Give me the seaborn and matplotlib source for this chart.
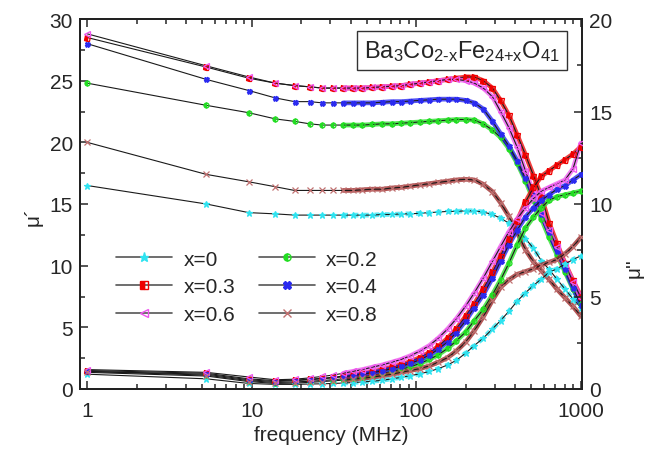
import numpy as np
import pandas as pd
import matplotlib
matplotlib.use("Agg")
import matplotlib.pyplot as plt
from matplotlib.lines import Line2D
from matplotlib.ticker import FixedLocator, MultipleLocator, LogLocator, NullFormatter
import seaborn as sns

# ---------------- data ----------------
freq = [1, 5.3, 9.6, 13.9, 18.2, 22.5, 26.8, 31, 36, 41, 47, 54, 62, 71, 81, 92,
        105, 120, 136, 155, 175, 200, 225, 255, 290, 325, 365, 410, 460, 515,
        575, 640, 715, 800, 895, 1000]

labels = ["x=0", "x=0.2", "x=0.3", "x=0.4", "x=0.6", "x=0.8"]

# real part mu' (left axis)
mu1_x0 = [16.5, 15.0, 14.3, 14.2, 14.1, 14.1, 14.1, 14.1, 14.1, 14.1, 14.1, 14.1, 14.15, 14.15, 14.2, 14.2,
          14.25, 14.3, 14.35, 14.4, 14.4, 14.45, 14.45, 14.35, 14.15, 13.85, 13.45, 12.9, 12.2, 11.4,
          10.4, 9.7, 8.9, 8.1, 7.3, 6.6]
mu1_x02 = [24.8, 23.0, 22.4, 21.9, 21.7, 21.5, 21.4, 21.4, 21.4, 21.4, 21.4, 21.45, 21.5, 21.5, 21.55, 21.6,
           21.65, 21.7, 21.75, 21.8, 21.85, 21.85, 21.8, 21.5, 21.0, 20.4, 19.5, 18.3, 16.9, 15.3,
           13.8, 12.3, 10.9, 9.5, 8.1, 6.9]
mu1_x03 = [28.5, 26.1, 25.2, 24.8, 24.6, 24.5, 24.4, 24.4, 24.4, 24.4, 24.4, 24.45, 24.5, 24.55, 24.6, 24.7,
           24.8, 24.9, 25.0, 25.1, 25.2, 25.3, 25.3, 25.0, 24.4, 23.4, 22.2, 20.6, 19.0, 17.3,
           15.6, 13.5, 11.8, 10.2, 8.8, 7.5]
mu1_x04 = [28.0, 25.1, 24.2, 23.6, 23.3, 23.3, 23.2, 23.2, 23.2, 23.2, 23.2, 23.2, 23.25, 23.3, 23.3, 23.35,
           23.4, 23.45, 23.5, 23.5, 23.5, 23.4, 23.2, 22.7, 21.7, 20.7, 19.7, 18.5, 17.1, 15.7,
           14.2, 12.7, 11.2, 9.7, 8.2, 6.8]
mu1_x06 = [28.8, 26.2, 25.3, 24.8, 24.6, 24.5, 24.4, 24.4, 24.4, 24.4, 24.4, 24.45, 24.5, 24.55, 24.6, 24.7,
           24.8, 24.9, 25.0, 25.1, 25.1, 25.0, 24.8, 24.4, 23.7, 22.5, 21.2, 19.6, 17.7, 15.9,
           14.3, 12.9, 11.5, 10.1, 8.7, 7.4]
mu1_x08 = [20.0, 17.4, 16.8, 16.4, 16.1, 16.1, 16.1, 16.1, 16.1, 16.1, 16.15, 16.2, 16.2, 16.3, 16.35, 16.45,
           16.55, 16.65, 16.75, 16.85, 16.95, 17.0, 16.95, 16.6, 16.0, 15.1, 14.0, 12.7, 11.3, 10.3,
           9.6, 8.9, 8.1, 7.4, 6.7, 5.9]

# imaginary part mu'' (right axis)
mu2_x0 = [0.8, 0.55, 0.3, 0.25, 0.25, 0.27, 0.28, 0.3, 0.32, 0.35, 0.38, 0.42, 0.47, 0.55, 0.63, 0.72,
          0.82, 0.95, 1.1, 1.3, 1.55, 1.95, 2.35, 2.75, 3.25, 3.7, 4.2, 4.75, 5.2, 5.6,
          5.95, 6.3, 6.5, 6.75, 7.0, 7.2]
mu2_x02 = [0.95, 0.75, 0.45, 0.35, 0.38, 0.42, 0.46, 0.5, 0.55, 0.6, 0.67, 0.75, 0.85, 0.95, 1.07, 1.2,
           1.38, 1.6, 1.85, 2.2, 2.6, 3.1, 3.7, 4.3, 5.1, 5.9, 6.8, 7.8, 8.7, 9.3,
           9.8, 10.2, 10.4, 10.5, 10.6, 10.7]
mu2_x03 = [1.0, 0.85, 0.55, 0.45, 0.48, 0.53, 0.58, 0.63, 0.7, 0.76, 0.84, 0.93, 1.05, 1.18, 1.32, 1.48,
           1.7, 1.97, 2.3, 2.75, 3.25, 3.95, 4.6, 5.4, 6.3, 7.2, 8.1, 9.1, 10.1, 10.9,
           11.5, 11.8, 12.1, 12.4, 12.7, 13.1]
mu2_x04 = [0.95, 0.8, 0.5, 0.4, 0.45, 0.5, 0.55, 0.6, 0.66, 0.72, 0.8, 0.88, 0.98, 1.1, 1.23, 1.38,
           1.58, 1.83, 2.15, 2.55, 3.05, 3.7, 4.4, 5.1, 6.0, 6.9, 7.8, 8.6, 9.3, 9.8,
           10.2, 10.5, 10.8, 11.0, 11.3, 11.6]
mu2_x06 = [1.05, 0.9, 0.65, 0.5, 0.53, 0.6, 0.68, 0.75, 0.85, 0.95, 1.05, 1.18, 1.3, 1.45, 1.6, 1.8,
           2.05, 2.35, 2.75, 3.25, 3.8, 4.5, 5.2, 6.0, 6.9, 7.7, 8.5, 9.2, 9.8, 10.3,
           10.7, 10.9, 11.1, 11.3, 11.9, 13.3]
mu2_x08 = [0.9, 0.7, 0.4, 0.3, 0.32, 0.36, 0.4, 0.44, 0.48, 0.53, 0.58, 0.64, 0.72, 0.8, 0.9, 1.0,
           1.1, 1.25, 1.45, 1.7, 2.05, 2.55, 3.15, 3.9, 4.8, 5.5, 5.9, 6.2, 6.35, 6.5,
           6.7, 6.85, 7.0, 7.3, 7.7, 8.2]

mu1 = [mu1_x0, mu1_x02, mu1_x03, mu1_x04, mu1_x06, mu1_x08]
mu2 = [mu2_x0, mu2_x02, mu2_x03, mu2_x04, mu2_x06, mu2_x08]

# ---------------- styles ----------------
colors = ["#2ee3f0", "#22dd22", "#ee0000", "#1e1ef0", "#ee55ee", "#9a2020"]
mcolors = ["#2ee3f0", "#22dd22", "#ee0000", "#2a2af0", "#ee55ee", "#c07070"]
markers = ["*", "o", "s", "X", "<", "x"]
fills = ["full", "left", "left", "full", "none", "full"]
msizes = [5, 3.6, 3.6, 3.6, 4.5, 4]
band_ls = [(0, (1, 1.2)), "-", "-", "-", "-", "-"]

sns.set_style("ticks")
plt.rcParams["font.family"] = ["Liberation Sans", "DejaVu Sans"]
plt.rcParams["mathtext.fontset"] = "custom"
plt.rcParams["mathtext.rm"] = "Liberation Sans"
plt.rcParams["mathtext.it"] = "Liberation Sans"

fig = plt.figure(figsize=(6.45, 4.52), dpi=100)
ax = fig.add_axes([80 / 645, 1 - 390 / 452, 502 / 645, 370 / 452])
ax2 = ax.twinx()

rows = []
for lab, a, b in zip(labels, mu1, mu2):
    for f, v1, v2 in zip(freq, a, b):
        rows.append({"freq": f, "comp": lab, "mu1": v1, "mu2": v2})
df = pd.DataFrame(rows)

for i, lab in enumerate(labels):
    sub = df[df["comp"] == lab]
    hi = sub[sub["freq"] >= 36]
    for axis, col in ((ax, "mu1"), (ax2, "mu2")):
        # coloured band where the measured points are dense
        sns.lineplot(data=hi, x="freq", y=col, ax=axis, color=colors[i], lw=3.4,
                     ls=band_ls[i], alpha=0.75, estimator=None, sort=False, legend=False)
        # thin black connecting line
        sns.lineplot(data=sub, x="freq", y=col, ax=axis, color="#1a1a1a", lw=0.8,
                     estimator=None, sort=False, legend=False)
        # markers
        axis.plot(sub["freq"], sub[col], ls="none", marker=markers[i], ms=msizes[i],
                  color=mcolors[i], mec=mcolors[i], mfc=mcolors[i] if fills[i] != "none" else "none",
                  fillstyle=fills[i], mew=0.9, zorder=5)

for axis in (ax, ax2):
    axis.set_xscale("log")
    axis.set_xlim(0.905, 1015)
    axis.set_xlabel("")
    axis.set_ylabel("")

ax.set_ylim(0, 30)
ax2.set_ylim(0, 20)
ax.yaxis.set_major_locator(MultipleLocator(5))
ax.yaxis.set_minor_locator(MultipleLocator(2.5))
ax2.yaxis.set_major_locator(MultipleLocator(5))
ax2.yaxis.set_minor_locator(MultipleLocator(2.5))
ax.xaxis.set_major_locator(FixedLocator([1, 10, 100, 1000]))
ax.set_xticklabels(["1", "10", "100", "1000"])
ax.xaxis.set_minor_locator(LogLocator(base=10, subs=np.arange(2, 10)))
ax.xaxis.set_minor_formatter(NullFormatter())

ax.tick_params(which="both", direction="in", top=True, labelsize=15, width=1.1)
ax.tick_params(which="major", length=6)
ax.tick_params(which="minor", length=3.5)
ax.tick_params(axis="x", pad=9)
ax.tick_params(axis="y", pad=5)
ax2.tick_params(which="both", direction="in", labelsize=15, width=1.1)
ax2.tick_params(which="major", length=6)
ax2.tick_params(which="minor", length=3.5)
ax2.tick_params(axis="y", pad=5)
ax2.tick_params(axis="x", which="both", top=False, bottom=False, labelbottom=False)

for axis in (ax, ax2):
    for s in axis.spines.values():
        s.set_linewidth(1.4)
        s.set_color("#222222")

ax.set_xlabel("frequency (MHz)", fontsize=15, labelpad=3)
ax.set_ylabel("μ´", fontsize=15, rotation=90)
ax.yaxis.set_label_coords(-0.075, 0.47)
ax2.set_ylabel("μ''", fontsize=15, rotation=90)
ax2.yaxis.set_label_coords(1.085, 0.33)

# composition box
formula = "Ba$_{3}$Co$_{\\mathrm{2\u2010x}}$Fe$_{\\mathrm{24{+}x}}$O$_{41}$"
ax.text(0.761, 0.916, formula,
        transform=ax.transAxes, ha="center", va="center", fontsize=17,
        bbox=dict(boxstyle="square,pad=0.3", fc="white", ec="#333333", lw=1.0), zorder=20)

# legend (row-wise order like the original)
handles = []
for i, lab in enumerate(labels):
    handles.append(Line2D([], [], color="#555555", lw=1.2, marker=markers[i], ms=msizes[i] + 1.5,
                          mec=mcolors[i], mfc=mcolors[i] if fills[i] != "none" else "none",
                          fillstyle=fills[i], mew=1.0, label=lab))
order = [0, 2, 4, 1, 3, 5]
ax.legend([handles[k] for k in order], [labels[k] for k in order], ncol=2,
          loc="upper left", bbox_to_anchor=(0.072, 0.377), frameon=False, fontsize=15,
          handlelength=2.7, handletextpad=0.55, columnspacing=1.1, labelspacing=0.42,
          borderaxespad=0, borderpad=0)

fig.savefig("out.png", dpi=100)
